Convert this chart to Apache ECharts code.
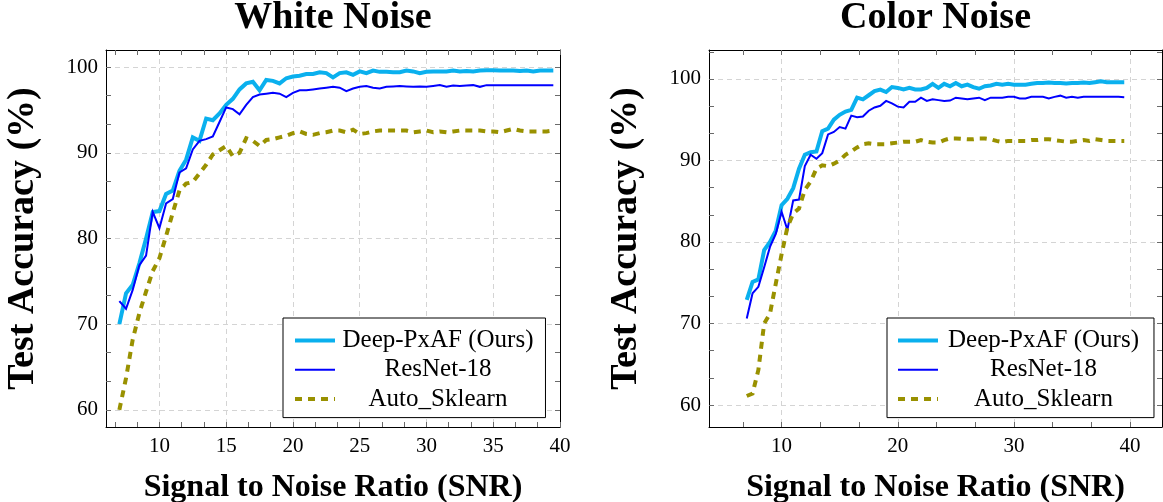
<!DOCTYPE html>
<html><head><meta charset="utf-8">
<script src="https://cdn.jsdelivr.net/npm/echarts@6/dist/echarts.min.js"></script>
<style>html,body{margin:0;padding:0;background:#fff}#c{width:1163px;height:502px}</style>
</head><body><div id="c"></div>
<script>
// ---------------- data ----------------
const snr = [7,7.5,8,8.5,9,9.5,10,10.5,11,11.5,12,12.5,13,13.5,14,14.5,15,15.5,16,16.5,17,17.5,18,18.5,19,19.5,20,20.5,21,21.5,22,22.5,23,23.5,24,24.5,25,25.5,26,26.5,27,27.5,28,28.5,29,29.5,30,30.5,31,31.5,32,32.5,33,33.5,34,34.5,35,35.5,36,36.5,37,37.5,38,38.5,39,39.5];

const whiteDeep = [70.0,73.6,74.6,77.1,80.0,83.1,83.2,85.2,85.6,87.9,
  89.2,91.8,91.4,94.0,93.8,94.6,95.6,96.3,97.4,98.1,
  98.3,97.3,98.5,98.4,98.1,98.7,98.9,99.0,99.2,99.2,
  99.4,99.3,98.8,99.3,99.4,99.1,99.5,99.3,99.6,99.45,
  99.45,99.4,99.4,99.6,99.5,99.3,99.45,99.5,99.5,99.5,
  99.6,99.5,99.55,99.5,99.6,99.65,99.65,99.6,99.6,99.6,
  99.55,99.6,99.5,99.6,99.6,99.6];
const whiteRes = [72.7,71.8,74.0,76.9,78.0,83.1,81.2,84.1,84.6,87.7,
  88.2,90.4,91.4,91.6,91.9,93.6,95.3,95.1,94.5,95.6,
  96.5,96.8,96.9,97.0,96.9,96.5,97.0,97.3,97.3,97.4,
  97.5,97.6,97.7,97.6,97.2,97.5,97.7,97.8,97.6,97.5,
  97.7,97.75,97.8,97.75,97.7,97.75,97.7,97.8,97.9,97.7,
  97.85,97.8,97.85,97.9,97.7,97.9,97.9,97.9,97.9,97.9,
  97.9,97.9,97.9,97.9,97.9,97.9];
const whiteAuto = [60.0,63.7,68.2,71.3,73.8,76.2,77.7,80.3,83.0,85.6,
  86.4,86.6,87.6,88.6,89.8,90.3,90.8,89.6,90.0,91.7,
  91.4,90.8,91.5,91.6,91.8,92.0,92.3,92.5,92.2,92.1,
  92.3,92.4,92.6,92.6,92.4,92.7,92.2,92.3,92.5,92.6,
  92.6,92.6,92.6,92.6,92.4,92.5,92.6,92.4,92.5,92.4,
  92.5,92.6,92.6,92.6,92.6,92.5,92.5,92.4,92.6,92.8,
  92.6,92.5,92.5,92.5,92.5,92.6];

const colorDeep = [72.9,75.1,75.4,79.0,80.0,81.4,84.5,85.3,86.6,89.0,
  90.7,91.0,91.1,93.6,93.9,95.0,95.6,96.0,96.2,97.7,
  97.5,98.0,98.5,98.7,98.4,99.0,98.9,98.7,98.9,98.7,
  98.7,98.9,99.4,98.9,99.4,99.1,99.5,99.1,99.3,99.0,
  98.8,99.1,99.2,99.4,99.3,99.4,99.3,99.3,99.3,99.4,
  99.5,99.5,99.55,99.5,99.5,99.45,99.5,99.5,99.55,99.5,
  99.6,99.7,99.6,99.6,99.6,99.6];
const colorRes = [70.6,73.7,74.5,76.9,79.4,81.0,83.7,81.5,85.1,85.2,
  89.3,90.7,90.2,90.9,93.2,93.5,94.1,93.9,95.5,95.3,
  95.4,96.1,96.5,96.7,97.3,97.0,96.6,96.5,97.2,97.2,
  97.7,97.3,97.5,97.4,97.3,97.35,97.7,97.6,97.5,97.6,
  97.7,97.4,97.7,97.7,97.7,97.8,97.8,97.6,97.6,97.8,
  97.8,97.8,97.6,97.8,97.95,97.7,97.8,97.7,97.8,97.8,
  97.8,97.8,97.8,97.8,97.8,97.75];
const colorAuto = [61.1,61.4,64.3,70.0,71.2,74.9,78.5,81.8,83.5,84.1,
  86.4,87.4,89.0,89.4,89.3,89.6,90.0,90.7,91.1,91.6,
  92.0,92.1,92.0,92.0,92.0,92.1,92.2,92.3,92.3,92.3,
  92.5,92.3,92.2,92.2,92.5,92.7,92.7,92.65,92.6,92.6,
  92.7,92.7,92.6,92.4,92.25,92.4,92.4,92.4,92.4,92.5,
  92.5,92.6,92.6,92.5,92.4,92.3,92.3,92.4,92.5,92.4,
  92.6,92.5,92.4,92.4,92.4,92.4];

const seriesNames = ['Deep-PxAF (Ours)', 'ResNet-18', 'Auto_Sklearn'];
const titles = ['White Noise', 'Color Noise'];
const xTitle = 'Signal to Noise Ratio (SNR)';
const yTitle = 'Test Accuracy (%)';
const whiteXTicks = [10,15,20,25,30,35,40];
const colorXTicks = [10,20,30,40];
const yTicks = [60,70,80,90,100];

// ---------------- style ----------------
const FONT = 'Liberation Serif';
const COLORS = ['#0AB0EE', '#0000FF', '#999100'];
const WIDTHS = [4, 2, 4];
const TYPES = ['solid', 'solid', [7, 6]];

function withMinors(majors, min, max) {
  const step = (majors[1] - majors[0]) / 3;
  const out = [];
  for (let k = -6; k <= (majors.length + 2) * 3; k++) {
    const v = +(majors[0] + k * step).toFixed(4);
    if (v >= min - 1e-6 && v <= max + 1e-6) out.push(v);
  }
  return out;
}

const panels = [
  {grid:{left:106, top:50, width:454, height:377}, xmin:6, xmax:40, ymin:58, ymax:102,
   xMaj:whiteXTicks, data:[whiteDeep, whiteRes, whiteAuto], title:titles[0]},
  {grid:{left:709, top:50, width:453, height:377}, xmin:3.75, xmax:42.75, ymin:57.3, ymax:103.55,
   xMaj:colorXTicks, data:[colorDeep, colorRes, colorAuto], title:titles[1]}
];

const grid = [], xAxis = [], yAxis = [], series = [], title = [], legend = [];
const axisLineStyle = {color:'#000', width:1};
const tickStyle = {color:'#6a6a6a', width:1};
const gridLine = {show:true, lineStyle:{color:'#d4d4d4', width:1, type:[5,4]}};

panels.forEach((p, g) => {
  grid.push(Object.assign({containLabel:false, outerBoundsMode:'none'}, p.grid));
  const xTickVals = withMinors(p.xMaj, p.xmin, p.xmax);
  const yTickVals = withMinors(yTicks, p.ymin, p.ymax);
  const base = {gridIndex:g, type:'value', min:p.xmin, max:p.xmax};
  xAxis.push(Object.assign({}, base, {
    position:'bottom',
    axisLine:{show:true, onZero:false, lineStyle:axisLineStyle},
    axisTick:{show:true, inside:true, length:5, customValues:xTickVals, lineStyle:tickStyle},
    axisLabel:{show:true, customValues:p.xMaj, margin:9, color:'#000', fontFamily:FONT, fontSize:21},
    splitLine:{show:false},
    name:xTitle, nameLocation:'middle', nameGap:45,
    nameTextStyle:{fontFamily:FONT, fontSize:32, fontWeight:'bold', color:'#000'}
  }));
  xAxis.push(Object.assign({}, base, {
    position:'top',
    axisLine:{show:true, onZero:false, lineStyle:axisLineStyle},
    axisTick:{show:true, inside:true, length:5, customValues:xTickVals, lineStyle:tickStyle},
    axisLabel:{show:false}, splitLine:{show:false}
  }));
  xAxis.push(Object.assign({}, base, {
    position:'bottom',
    axisLine:{show:false}, axisTick:{show:false, customValues:p.xMaj},
    axisLabel:{show:false, customValues:p.xMaj}, splitLine:gridLine
  }));

  const ybase = {gridIndex:g, type:'value', min:p.ymin, max:p.ymax};
  yAxis.push(Object.assign({}, ybase, {
    position:'left',
    axisLine:{show:true, onZero:false, lineStyle:axisLineStyle},
    axisTick:{show:true, inside:true, length:5, customValues:yTickVals, lineStyle:tickStyle},
    axisLabel:{show:true, customValues:yTicks, margin:8, color:'#000', fontFamily:FONT, fontSize:21},
    splitLine:{show:false},
    name:yTitle, nameLocation:'middle', nameGap:64, nameRotate:90,
    nameTextStyle:{fontFamily:FONT, fontSize:38, fontWeight:'bold', color:'#000'}
  }));
  yAxis.push(Object.assign({}, ybase, {
    position:'right',
    axisLine:{show:true, onZero:false, lineStyle:axisLineStyle},
    axisTick:{show:true, inside:true, length:5, customValues:yTickVals, lineStyle:tickStyle},
    axisLabel:{show:false}, splitLine:{show:false}
  }));
  yAxis.push(Object.assign({}, ybase, {
    position:'left',
    axisLine:{show:false}, axisTick:{show:false, customValues:yTicks},
    axisLabel:{show:false, customValues:yTicks}, splitLine:gridLine
  }));

  p.data.forEach((vals, s) => {
    series.push({
      name:seriesNames[s], type:'line', xAxisIndex:g*3, yAxisIndex:g*3,
      data:snr.map((x, i) => [x, vals[i]]),
      symbol:'none', showSymbol:false, smooth:false,
      lineStyle:{color:COLORS[s], width:WIDTHS[s], type:TYPES[s], cap:'butt', join:'miter'},
      itemStyle:{color:COLORS[s]},
      z:2 + s, silent:true
    });
  });

  const cx = p.grid.left + p.grid.width / 2;
  title.push({
    text:p.title, left:cx - 5, top:13, textAlign:'center', textVerticalAlign:'middle',
    textStyle:{fontFamily:FONT, fontSize:38, fontWeight:'bold', color:'#000'}
  });

  legend.push({
    orient:'vertical',
    left: g === 0 ? 283 : 887, top:318,
    padding: g === 0 ? [10,12,6,10] : [10,15,6,9],
    itemGap:4.3, itemWidth:40, itemHeight:14,
    itemStyle:{opacity:0},
    lineStyle:{width:'inherit', type:'inherit', color:'inherit'},
    borderColor:'#000', borderWidth:1, borderRadius:0, backgroundColor:'#fff',
    data:seriesNames, selectedMode:false,
    formatter:'{t|{name}}',
    textStyle:{fontFamily:FONT, fontSize:25, color:'#000',
      rich:{t:{width: g === 0 ? 196 : 201, align:'center', fontFamily:FONT, fontSize:25, color:'#000'}}},
    z:20
  });
});

const chart = echarts.init(document.getElementById('c'), null, {renderer:'canvas'});
chart.setOption({
  backgroundColor:'#fff', animation:false,
  textStyle:{fontFamily:FONT},
  title, legend, grid, xAxis, yAxis, series
});
</script></body></html>
